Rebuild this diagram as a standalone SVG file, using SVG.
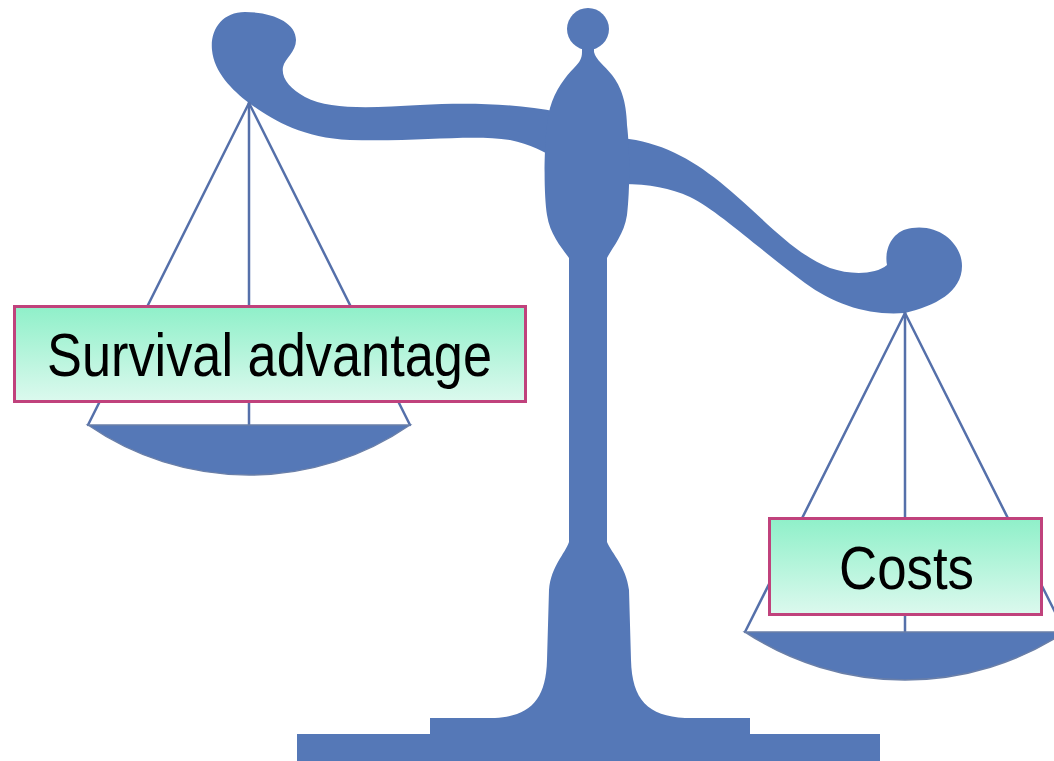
<svg xmlns="http://www.w3.org/2000/svg" width="1054" height="761" viewBox="0 0 1054 761">
  <defs>
    <linearGradient id="labelFill" x1="0" y1="0" x2="0" y2="1">
      <stop offset="0" stop-color="#8ff0c9"/>
      <stop offset="1" stop-color="#dcf9ee"/>
    </linearGradient>
    <style>
      .metal { fill: #5578b7; }
      .pan { fill: #5578b7; stroke: #6a7fa8; stroke-width: 1.5; }
      .cord { stroke: #5570aa; stroke-width: 2.5; fill: none; stroke-linecap: round; }
      .label rect { fill: url(#labelFill); stroke: #c0427c; stroke-width: 3; }
      .label text { font-family: "Liberation Sans Narrow", "Liberation Sans", Arial, sans-serif; font-size: 61px; fill: #000; }
    </style>
  </defs>
  <rect width="1054" height="761" fill="#ffffff"/>

  <!-- balance scale -->
  <g id="scale">
    <!-- left arm with curled end -->
    <path class="metal" d="M249,103 C270,118 300,138 350,140 C420,142 470,134 510,140 C530,144 545,152 558,160 L558,112 C520,104 470,102 420,105 C370,108 330,110 305,97 C290,89 281,78 283,67 C285,58 296,52 296,40 C296,22 272,12 245,12 C222,12 210,30 212,50 C214,72 232,90 249,103 Z"/>
    <!-- right arm with curled end -->
    <path class="metal" d="M622,138 C660,142 690,158 720,182 C760,214 790,252 830,268 C850,275 875,275 887,265 C884,250 892,230 912,228 C940,224 962,244 962,266 C962,292 935,306 905,313 C870,316 835,305 805,283 C760,250 720,212 690,197 C670,188 650,184 622,184 Z"/>
    <!-- finial -->
    <circle class="metal" cx="588" cy="29" r="21"/>
    <!-- pivot housing -->
    <path class="metal" d="M582,44 L594,44 L594,52 C596,60 604,65 612,75 C621,87 626,100 627,125 C630,150 630,190 627,215 C624,235 612,248 607,258 L569,258 C562,248 550,235 547,215 C543,190 544,130 550,108 C555,90 566,76 574,68 C580,62 582,58 582,52 Z"/>
    <!-- column and base -->
    <path class="metal" d="M569,250 L607,250 L607,542 C612,554 626,566 629,590 L631,660 C632,700 648,716 685,718 L750,718 L750,734 L880,734 L880,761 L297,761 L297,734 L430,734 L430,718 L495,718 C530,716 546,700 547,660 L549,590 C551,566 565,554 569,542 Z"/>

    <!-- left pan -->
    <g id="left-pan">
      <line class="cord" x1="249" y1="103" x2="88" y2="425"/>
      <line class="cord" x1="249" y1="103" x2="249" y2="425"/>
      <line class="cord" x1="249" y1="103" x2="410" y2="425"/>
      <path class="pan" d="M88,425 A284,284 0 0,0 410,425 Z"/>
    </g>

    <!-- right pan -->
    <g id="right-pan">
      <line class="cord" x1="905" y1="313" x2="745" y2="632"/>
      <line class="cord" x1="905" y1="313" x2="905" y2="632"/>
      <line class="cord" x1="905" y1="313" x2="1065" y2="632"/>
      <path class="pan" d="M745,632 A291,291 0 0,0 1065,632 Z"/>
    </g>
  </g>

  <!-- labels -->
  <g id="survival-advantage" class="label">
    <rect x="14.5" y="306.5" width="511" height="95"/>
    <text x="47" y="376" textLength="445" lengthAdjust="spacingAndGlyphs">Survival advantage</text>
  </g>
  <g id="costs" class="label">
    <rect x="769.5" y="518.5" width="272" height="96"/>
    <text x="839" y="589" textLength="135" lengthAdjust="spacingAndGlyphs">Costs</text>
  </g>
</svg>
